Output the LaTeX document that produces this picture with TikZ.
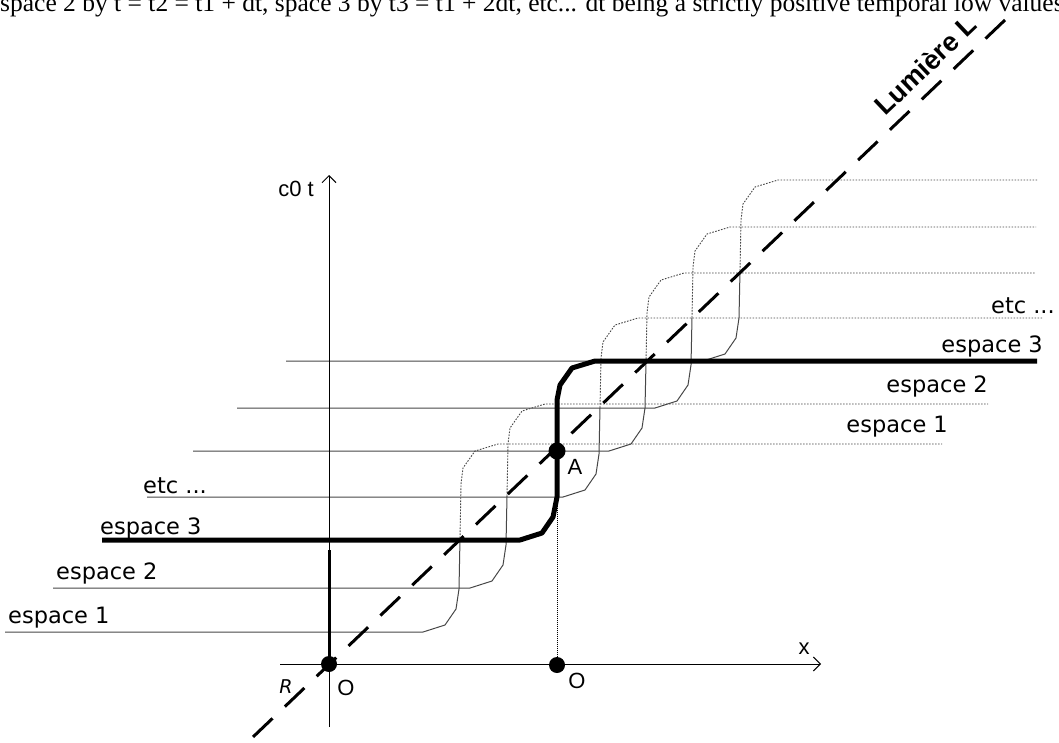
\documentclass[tikz,border=0pt]{standalone}
\usepackage{fontspec}
\setmainfont{Liberation Serif}
\newfontfamily\arialf{Liberation Sans}
\newfontfamily\comicf{DejaVu Sans}
\usetikzlibrary{arrows.meta}
\begin{document}
\begin{tikzpicture}[x=1pt,y=-1pt,
  thinsolid/.style={line width=1pt, draw=black!72},
  thindot/.style={line width=0.9pt, draw=black!72, dash pattern=on 1.6pt off 1.4pt},
  thickline/.style={line width=5pt, line join=round},
  lbl/.style={font=\comicf\fontsize{22.5}{22.5}\selectfont, inner sep=0pt},
  arl/.style={font=\arialf\fontsize{22}{22}\selectfont, inner sep=0pt},
  dotn/.style={circle, fill=black, inner sep=0pt, minimum size=16pt},
  axisline/.style={line width=1pt, draw=black, -{Straight Barb[length=7pt,width=14pt]}},
  light/.style={line width=3pt, dash pattern=on 27pt off 17pt}
]
\useasboundingbox (0,0) rectangle (1059,742);
\fill[white] (0,0) rectangle (1059,742);

% caption (cut at the top)
\node[anchor=base west, inner sep=0pt, font=\fontsize{25.5}{25.5}\selectfont] (caption) at (0,11)
  {space 2 by t = t2 = t1 + dt, space 3 by t3 = t1 + 2dt, etc... dt being a strictly positive temporal low values};

% named points
\coordinate (xs) at (280,664);
\coordinate (xe) at (821,664);
\coordinate (ys) at (329,727);
\coordinate (ye) at (329,175);
\coordinate (lb) at (232,757);
\coordinate (lt) at (1005,20);
\coordinate (thtop) at (329,550);

% thin step curves (solid before crossing the light line, dotted after)
\foreach \L/\R/\xc/\xl/\xr in {632/444/460/5/942, 588/404/507/53/988, 497/318/600/147/1043, 451/273/646/193/1035, 408/227/692/237/1036, 361/180/740/286/1038}{
  \pgfmathsetmacro\M{(\L+\R)/2}
  \draw[thinsolid] (\xl,\L) -- (\xc-37,\L) -- (\xc-15,\L-7) -- (\xc-4,\L-23) -- (\xc-1,\L-43) -- (\xc,\M);
  \draw[thindot] (\xc,\M) -- (\xc+1,\R+40) -- (\xc+3,\R+24) -- (\xc+15,\R+7) -- (\xc+38,\R) -- (\xr,\R);
}

% axes
\draw[axisline] (xs) -- (xe);
\draw[axisline] (ys) -- (ye);

% thick espace 3
\draw[thickline] (102,540) -- (520,540) -- (542,533) -- (553,517) -- (557,497) -- (557,400) -- (560,385) -- (572,368) -- (595,361) -- (1037,361);

% light line
\draw[light] (lt) -- (lb);

% dots
\node[dotn] (O1) at (329,664) {};
\node[dotn] (O2) at (557,665) {};
\node[dotn, minimum size=17pt] (A) at (557,451) {};
\draw[line width=3pt] (O1.center) -- (thtop);
\draw[line width=0.8pt, dash pattern=on 1pt off 1pt] (A) -- (O2);

% labels
\node[arl, anchor=base east] (ct) at (314,196) {c0 t};
\node[arl, anchor=base] (xl) at (804,654) {x};
\node[arl, anchor=base] (Ol) at (346,695) {O};
\node[arl, anchor=base] (Or) at (577,688) {O};
\node[arl, anchor=base] (Al) at (575,474) {A};
\node[font=\comicf\itshape\fontsize{19}{19}\selectfont, inner sep=0pt] (Rl) at (286,687) {R};
\node[font=\arialf\bfseries\fontsize{27}{27}\selectfont, rotate=43.6, anchor=base, inner sep=0pt] (lum) at (932,72) {Lumière L};

\node[lbl, anchor=base west] (e1l) at (8,623) {espace 1};
\node[lbl, anchor=base west] (e2l) at (56,579) {espace 2};
\node[lbl, anchor=base west] (e3l) at (100,534) {espace 3};
\node[lbl, anchor=base west] (etl) at (143,493) {etc ...};
\node[lbl, anchor=base east] (etr) at (1055,313) {etc ...};
\node[lbl, anchor=base east] (e3r) at (1043,352) {espace 3};
\node[lbl, anchor=base east] (e2r) at (988,392) {espace 2};
\node[lbl, anchor=base east] (e1r) at (948,432) {espace 1};
\end{tikzpicture}
\end{document}
